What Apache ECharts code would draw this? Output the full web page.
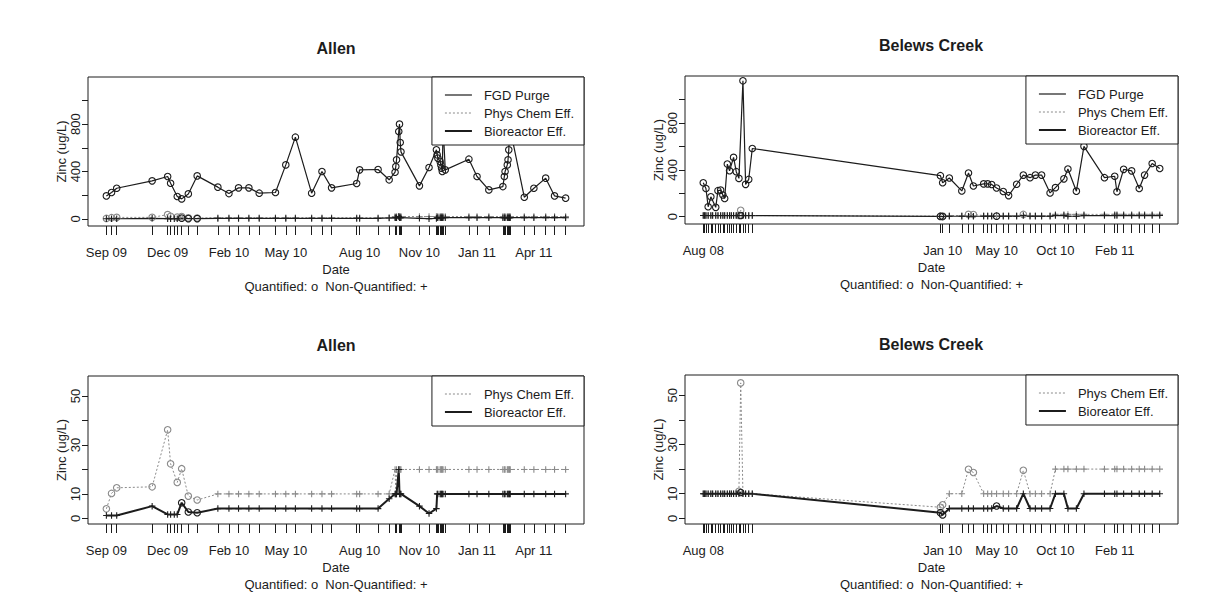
<!DOCTYPE html>
<html>
<head>
<meta charset="utf-8">
<script src="https://cdn.jsdelivr.net/npm/echarts@6/dist/echarts.min.js"></script>
<style>
html,body{margin:0;padding:0;background:#fff;}
#chart{width:1225px;height:594px;}
</style>
</head>
<body>
<div id="chart"></div>
<script>
// ---------------- DATA ----------------
// Allen sampling dates
const allenDates = [
'2009-09-10','2009-09-17','2009-09-24','2009-11-11','2009-12-02','2009-12-06','2009-12-11','2009-12-15','2009-12-21','2009-12-30',
'2010-01-11','2010-02-08','2010-02-23','2010-03-08','2010-03-22','2010-04-05','2010-04-27','2010-05-11','2010-05-24','2010-06-15',
'2010-06-29','2010-07-12','2010-08-15','2010-08-19','2010-09-13','2010-09-28','2010-10-06','2010-10-07','2010-10-08','2010-10-11',
'2010-10-12','2010-10-13','2010-10-14','2010-11-08','2010-11-21','2010-12-01','2010-12-02','2010-12-03','2010-12-06','2010-12-07',
'2010-12-08','2010-12-09','2010-12-10','2010-12-13','2011-01-14','2011-01-25','2011-02-10','2011-03-01','2011-03-03','2011-03-04',
'2011-03-07','2011-03-08','2011-03-09','2011-03-10','2011-03-11','2011-03-30','2011-04-12','2011-04-28','2011-05-10','2011-05-25'];
const allenFGD = [194,223,259,321,358,301,null,189,169,211,
363,268,214,262,262,217,223,456,690,217,
400,262,299,414,417,330,394,442,499,738,
800,645,566,279,434,583,541,513,485,456,
428,400,789,414,504,358,245,273,358,400,
456,499,583,710,758,183,259,344,194,175];
const allenFGDQ = 'oooooooooooooooooooooooooooooooooooooooooooooooooooooooooooo';
const allenPhys = [3.9,10.2,12.5,12.9,36.2,22.3,null,14.7,20.3,9.1,
7.5,10,10,10,10,10,10,10,10,10,
10,10,10,10,10,10,20,10,20,20,
20,20,20,20,20,20,20,20,20,20,
20,20,20,20,20,20,20,20,20,20,
20,20,20,20,20,20,20,20,20,20];
const allenPhysQ = 'ooooooooooo+++++++++++++++++++++++++++++++++++++++++++++++++';
const allenBio = [1.2,1.2,1.2,5.0,1.6,1.6,1.6,1.6,6.4,2.6,
2.3,4,4,4,4,4,4,4,4,4,
4,4,4,4,4,8,10,10,10,20,
10,10,10,5,2,4,10,10,10,10,
10,10,10,10,10,10,10,10,10,10,
10,10,10,10,10,10,10,10,10,10];
const allenBioQ = '++++++++ooo+++++++++++++++++++++++++++++++++++++++++++++++++';
const allenLabelDates = ['2009-09-10','2009-12-02','2010-02-23','2010-05-11','2010-08-19','2010-11-08','2011-01-25','2011-04-12'];

// Belews Creek sampling dates
const belewsDates = [
'2008-08-06','2008-08-09','2008-08-12','2008-08-17','2008-08-23','2008-08-27','2008-09-03','2008-09-08','2008-09-14','2008-09-19',
'2008-09-23','2008-09-29','2008-10-04','2008-10-08','2008-10-13','2008-10-19','2008-10-25','2008-10-29','2008-11-03','2008-11-09',
'2008-11-16','2008-11-24',
'2010-01-20','2010-01-25','2010-02-09','2010-03-09','2010-03-24','2010-04-04','2010-04-27','2010-05-06',
'2010-05-15','2010-05-26','2010-06-10','2010-06-22','2010-07-10','2010-07-25','2010-08-09','2010-08-21','2010-09-04','2010-09-23',
'2010-10-05','2010-10-24','2010-11-02','2010-11-21','2010-12-08','2011-01-23','2011-02-15','2011-02-20','2011-03-07','2011-03-25',
'2011-04-11','2011-04-23','2011-05-10','2011-05-27'];
const belewsFGD = [290,null,241,85,170,null,80,222,227,185,
156,449,392,null,506,384,327,null,1159,276,
318,582,
350,290,330,220,373,262,280,280,
275,245,215,180,277,355,333,355,355,203,
248,323,407,218,600,333,345,213,404,391,
241,355,454,411];
const belewsFGDQ = 'oooooooooooooooooooooooooooooooooooooooooooooooooooooo';
const belewsPhys = [10,10,10,10,10,10,10,10,10,10,
10,10,10,10,10,10,11,55,10,10,
10,10,
4.5,5.5,10,10,19.9,18.6,10,10,
10,10,10,10,10,19.5,10,10,10,10,
20,20,20,20,20,20,20,20,20,20,
20,20,20,20];
const belewsPhysQ = '++++++++++++++++oo++++' + 'oo++oo+++++++o++++++++++++++++++';
const belewsBio = [10,10,10,10,10,10,10,10,10,10,
10,10,10,10,10,10,10,10.5,10,10,
10,10,
2.3,1.4,4,4,4,4,4,4,
4,5,4,4,4,10,4,4,4,4,
10,10,4,4,10,10,10,10,10,10,
10,10,10,10];
const belewsBioQ = '+++++++++++++++++o++++' + 'oo+++++++o++++++++++++++++++++++';
const belewsLabelDates = ['2008-08-06','2010-01-25','2010-05-26','2010-10-05','2011-02-15'];

// tick labels
const topYTicks = [0,200,400,600,800,1000];
const topYLabels = [0,400,800];
const botYTicks = [0,10,20,30,40,50];
const botYLabels = [0,10,30,50];
const MONTHS = ['Jan','Feb','Mar','Apr','May','Jun','Jul','Aug','Sep','Oct','Nov','Dec'];

// ---------------- HELPERS ----------------
const FONT = '"Liberation Sans", Arial, Helvetica, sans-serif';
const INK = '#1c1c1c';
const GRAY = '#8a8a8a';
const PLUS = 'path://M0,5H10M5,0V10';

function ts(d){ return Date.parse(d + 'T00:00:00Z'); }
function fmtDate(v){ const d = new Date(v); return MONTHS[d.getUTCMonth()] + ' ' + String(d.getUTCFullYear() % 100).padStart(2,'0'); }
function xRange(dates){ const a = ts(dates[0]), b = ts(dates[dates.length-1]); const p = (b - a) * 0.04; return [a - p, b + p]; }
function pts(dates, vals, q){
  const out = [];
  dates.forEach((d,i) => { if (vals[i] != null) out.push({value:[ts(d), vals[i]], symbol: q[i] === 'o' ? 'circle' : PLUS}); });
  return out;
}
const txt = {fontFamily: FONT, fontSize: 13, color: INK};

function xAxis(gi, dates, labels){
  const r = xRange(dates);
  return {
    type:'value', gridIndex: gi, min: r[0], max: r[1],
    axisLine:{show:false, onZero:false}, splitLine:{show:false},
    axisTick:{show:true, customValues: dates.map(ts), length: 9, lineStyle:{color: INK, width: 1}},
    axisLabel:Object.assign({customValues: labels.map(ts), formatter: fmtDate, margin: 20, hideOverlap:false}, txt),
    name:'Date\nQuantified: o  Non-Quantified: +', nameLocation:'middle', nameGap: 35,
    nameTextStyle:Object.assign({lineHeight: 17}, txt)
  };
}
function yAxis(gi, min, max, ticks, labels){
  return {
    type:'value', gridIndex: gi, min: min, max: max,
    axisLine:{show:false, onZero:false}, splitLine:{show:false},
    axisTick:{show:true, customValues: ticks, length: 6, lineStyle:{color: INK, width: 1}},
    axisLabel:Object.assign({customValues: labels, rotate: 90, margin: 6}, txt),
    name:'Zinc (ug/L)', nameLocation:'middle', nameRotate: 90, nameGap: 18,
    nameTextStyle: txt
  };
}
function series(name, gi, data, color, width, dashed){
  return {
    type:'line', name: name, xAxisIndex: gi, yAxisIndex: gi, data: data,
    symbolSize: 6.5, showAllSymbol: true, animation: false, silent: true,
    lineStyle:{color: color, width: width, type: dashed ? [2,2] : 'solid'},
    itemStyle:{color: 'transparent', borderColor: color, borderWidth: 1.1}
  };
}
function legend(rightPx, topPx, items){
  return {
    orient:'vertical', right: rightPx, top: topPx, selectedMode: false,
    borderColor: INK, borderWidth: 1, borderRadius: 0, backgroundColor:'#fff',
    padding:[10, 10, 6, 12], itemWidth: 27, itemHeight: 14, itemGap: 2,
    itemStyle:{opacity: 0, color:'transparent', borderWidth: 0},
    textStyle: Object.assign({padding:[0,0,0,7], lineHeight: 16}, txt),
    data: items
  };
}
const LFGD = {name:'FGD Purge', lineStyle:{color: INK, width: 1.2, type:'solid'}};
const LPHY = {name:'Phys Chem Eff.', lineStyle:{color: GRAY, width: 1, type:[2,2]}};
const LBIO = {name:'Bioreactor Eff.', lineStyle:{color: INK, width: 2, type:'solid'}};
const LBIO2 = {name:'Bioreator Eff.', lineStyle:{color: INK, width: 2, type:'solid'}};

function title(text, cx, top){
  return {text: text, left: cx, top: top, textAlign: 'center', padding: 0,
          textStyle:{fontFamily: FONT, fontSize: 16, fontWeight: 'bold', color: INK}};
}

// ---------------- CHART ----------------
const chart = echarts.init(document.getElementById('chart'), null, {renderer:'svg'});
chart.setOption({
  backgroundColor:'#ffffff',
  animation:false,
  title:[
    title('Allen', 336, 40), title('Belews Creek', 931, 37),
    title('Allen', 336, 337), title('Belews Creek', 931, 336)
  ],
  grid:[
    {left:88, top:77, width:496, height:149, show:true, borderColor: INK, borderWidth:1},
    {left:685, top:76, width:493, height:148, show:true, borderColor: INK, borderWidth:1},
    {left:88, top:376, width:496, height:149, show:true, borderColor: INK, borderWidth:1},
    {left:685, top:375, width:493, height:149, show:true, borderColor: INK, borderWidth:1}
  ],
  xAxis:[
    xAxis(0, allenDates, allenLabelDates),
    xAxis(1, belewsDates, belewsLabelDates),
    xAxis(2, allenDates, allenLabelDates),
    xAxis(3, belewsDates, belewsLabelDates)
  ],
  yAxis:[
    yAxis(0, -60, 1198, topYTicks, topYLabels),
    yAxis(1, -62, 1200, topYTicks, topYLabels),
    yAxis(2, -2.3, 58.2, botYTicks, botYLabels),
    yAxis(3, -2.3, 58.2, botYTicks, botYLabels)
  ],
  legend:[
    legend(641, 77, [LFGD, LPHY, LBIO]),
    legend(47, 76, [LFGD, LPHY, LBIO]),
    legend(641, 376, [LPHY, LBIO]),
    legend(47, 375, [LPHY, LBIO2])
  ],
  series:[
    series('FGD Purge', 0, pts(allenDates, allenFGD, allenFGDQ), INK, 1.2, false),
    series('Phys Chem Eff.', 0, pts(allenDates, allenPhys, allenPhysQ), GRAY, 1, true),
    series('Bioreactor Eff.', 0, pts(allenDates, allenBio, allenBioQ), INK, 1.2, false),
    series('FGD Purge', 1, pts(belewsDates, belewsFGD, belewsFGDQ), INK, 1.2, false),
    series('Phys Chem Eff.', 1, pts(belewsDates, belewsPhys, belewsPhysQ), GRAY, 1, true),
    series('Bioreactor Eff.', 1, pts(belewsDates, belewsBio, belewsBioQ), INK, 1.2, false),
    series('Phys Chem Eff.', 2, pts(allenDates, allenPhys, allenPhysQ), GRAY, 1, true),
    series('Bioreactor Eff.', 2, pts(allenDates, allenBio, allenBioQ), INK, 2, false),
    series('Phys Chem Eff.', 3, pts(belewsDates, belewsPhys, belewsPhysQ), GRAY, 1, true),
    series('Bioreator Eff.', 3, pts(belewsDates, belewsBio, belewsBioQ), INK, 2, false)
  ]
});
</script>
</body>
</html>
